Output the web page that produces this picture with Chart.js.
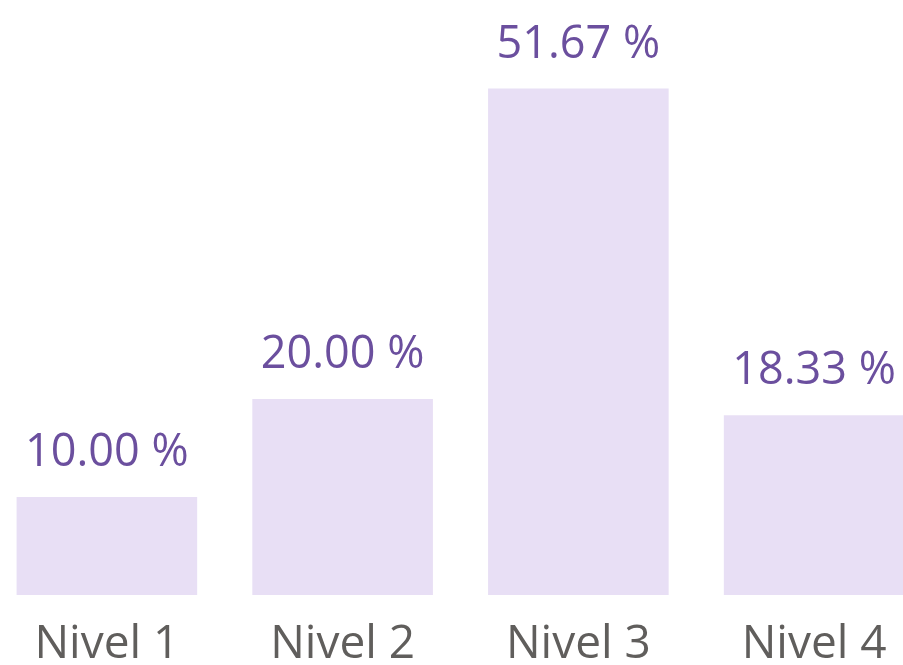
<!DOCTYPE html>
<html>
<head>
<meta charset="utf-8">
<script src="https://cdn.jsdelivr.net/npm/chart.js@4"></script>
<style>
  html, body { margin: 0; padding: 0; background: #fff; overflow: hidden; }
  #wrap { position: absolute; left: -11px; top: 0; width: 943px; height: 665px; }
</style>
</head>
<body>
<div id="wrap"><canvas id="myChart"></canvas></div>
<script>
const categories = ['Nivel 1', 'Nivel 2', 'Nivel 3', 'Nivel 4'];
const percentages = [10.00, 20.00, 51.67, 18.33];

// value labels above each bar
const valueLabels = {
  id: 'valueLabels',
  afterDatasetsDraw(chart) {
    const ctx = chart.ctx;
    const meta = chart.getDatasetMeta(0);
    ctx.save();
    ctx.font = '45px "Open Sans"';
    ctx.fillStyle = '#6b4f9e';
    ctx.textAlign = 'center';
    ctx.textBaseline = 'alphabetic';
    meta.data.forEach((bar, i) => {
      const text = percentages[i].toFixed(2) + ' %';
      ctx.fillText(text, bar.x, bar.y - 31);
    });
    ctx.restore();
  }
};

const ctx = document.getElementById('myChart').getContext('2d');
const myChart = new Chart(ctx, {
  type: 'bar',
  data: {
    labels: categories,
    datasets: [{
      data: percentages,
      backgroundColor: '#e8dff5',
      borderWidth: 0,
      categoryPercentage: 1,
      barPercentage: 0.766
    }]
  },
  options: {
    responsive: true,
    maintainAspectRatio: false,
    animation: false,
    layout: { padding: 0 },
    plugins: {
      legend: { display: false },
      tooltip: { enabled: false }
    },
    scales: {
      x: {
        grid: { display: false },
        border: { display: false },
        afterFit: (scale) => { scale.height = 70; },
        ticks: {
          color: '#605e5c',
          padding: 14,
          font: { family: 'Open Sans', size: 46, lineHeight: 1.2 }
        }
      },
      y: {
        display: false,
        min: 0,
        max: 60.7
      }
    }
  },
  plugins: [valueLabels]
});
</script>
</body>
</html>
